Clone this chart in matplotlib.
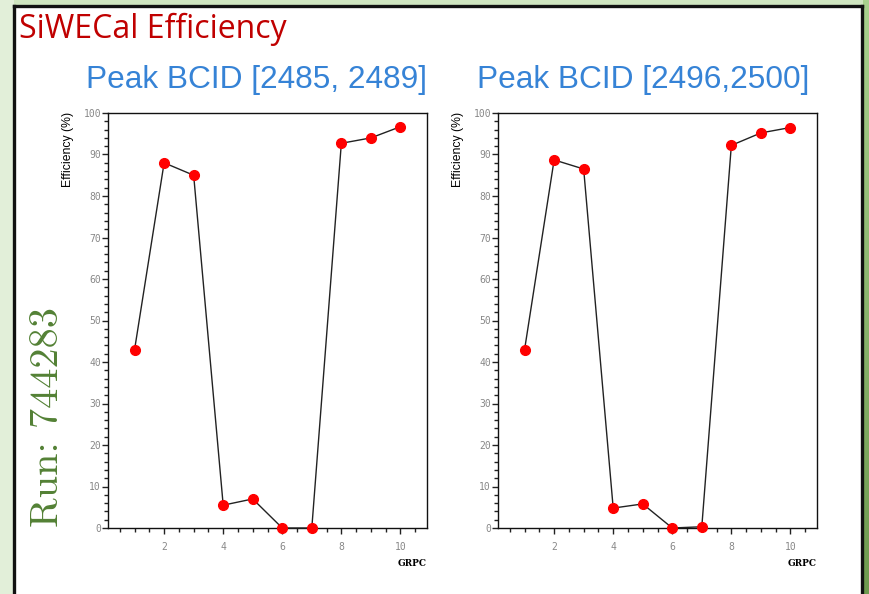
import matplotlib.pyplot as plt
import numpy as np
from matplotlib.patches import Rectangle
from matplotlib.ticker import MultipleLocator
from matplotlib.colors import LinearSegmentedColormap

# data
grpc = [1, 2, 3, 4, 5, 6, 7, 8, 9, 10]
eff_left = [43.0, 88.0, 85.0, 5.5, 7.0, 0.0, 0.0, 92.7, 94.0, 96.7]
eff_right = [43.0, 88.7, 86.5, 4.8, 5.8, 0.0, 0.3, 92.2, 95.2, 96.5]
titles = ["Peak BCID [2485, 2489]", "Peak BCID [2496,2500]"]

W, H = 869, 594
fig = plt.figure(figsize=(W / 100, H / 100), dpi=100)
fig.patch.set_facecolor('#e2efd9')

def fx(px):
    return px / W

def fy(py):
    return 1 - py / H

# slide background: white panel, green strip on the right, black frame
bg = fig.add_axes([0, 0, 1, 1], zorder=-10)
bg.set_xlim(0, W)
bg.set_ylim(H, 0)
bg.axis('off')
grad = np.linspace(0, 1, 200).reshape(-1, 1)
gcmap = LinearSegmentedColormap.from_list('g', ['#a9d18e', '#6e9a4f'])
bg.imshow(grad, cmap=gcmap, extent=(862, W, H, 0), aspect='auto')
bg.add_patch(Rectangle((14, 0), 849, 5, color='#cfe5c0', lw=0))
bg.add_patch(Rectangle((14, 6), 848, H, color='white', lw=0))
bg.plot([14, 14], [H, 6], color='#111111', lw=2.4)
bg.plot([14, 862], [6, 6], color='#111111', lw=2.4)
bg.plot([862, 862], [6, H], color='#111111', lw=2.4)

fig.text(fx(19), fy(29), "SiWECal Efficiency", color='#c00000',
         fontsize=23, family='Open Sans', va='center', ha='left')
fig.text(fx(48), fy(417), "Run: 744283", color='#538135',
         fontsize=29, family='cmr10', rotation=90, va='center', ha='center')

panels = [(108, eff_left, titles[0], 257), (498, eff_right, titles[1], 643)]
for x0, eff, title, tx in panels:
    ax = fig.add_axes([fx(x0), fy(528), fx(319), (528 - 113) / H])
    ax.plot(grpc, eff, color='#222222', lw=1.0, marker='o',
            markersize=7, markerfacecolor='red', markeredgecolor='red',
            clip_on=False, zorder=3)
    ax.set_xlim(0.1, 10.9)
    ax.set_ylim(0, 100)
    ax.xaxis.set_major_locator(MultipleLocator(2))
    ax.xaxis.set_minor_locator(MultipleLocator(0.5))
    ax.yaxis.set_major_locator(MultipleLocator(10))
    ax.yaxis.set_minor_locator(MultipleLocator(2))
    ax.tick_params(which='both', direction='out', length=4, width=1,
                   labelsize=7, labelcolor='#888888', colors='#222222')
    ax.tick_params(which='minor', length=3)
    for lab in ax.get_xticklabels() + ax.get_yticklabels():
        lab.set_family('DejaVu Sans Mono')
    ax.tick_params(axis='y', pad=1)
    ax.tick_params(axis='x', pad=6)
    for s in ax.spines.values():
        s.set_color('#111111')
        s.set_linewidth(1.0)
    fig.text(fx(x0 - 40), fy(112), "Efficiency (%)", rotation=90,
             fontsize=8.8, family='Liberation Sans', va='top', ha='center')
    fig.text(fx(x0 + 319), fy(563), "GRPC", fontsize=6.5,
             family='DejaVu Serif', weight='bold', ha='right', va='center')
    fig.text(fx(tx), fy(80), title, color='#3683d6', fontsize=22.8,
             family='Liberation Sans', ha='center', va='center')

fig.savefig('out.png', dpi=100)
